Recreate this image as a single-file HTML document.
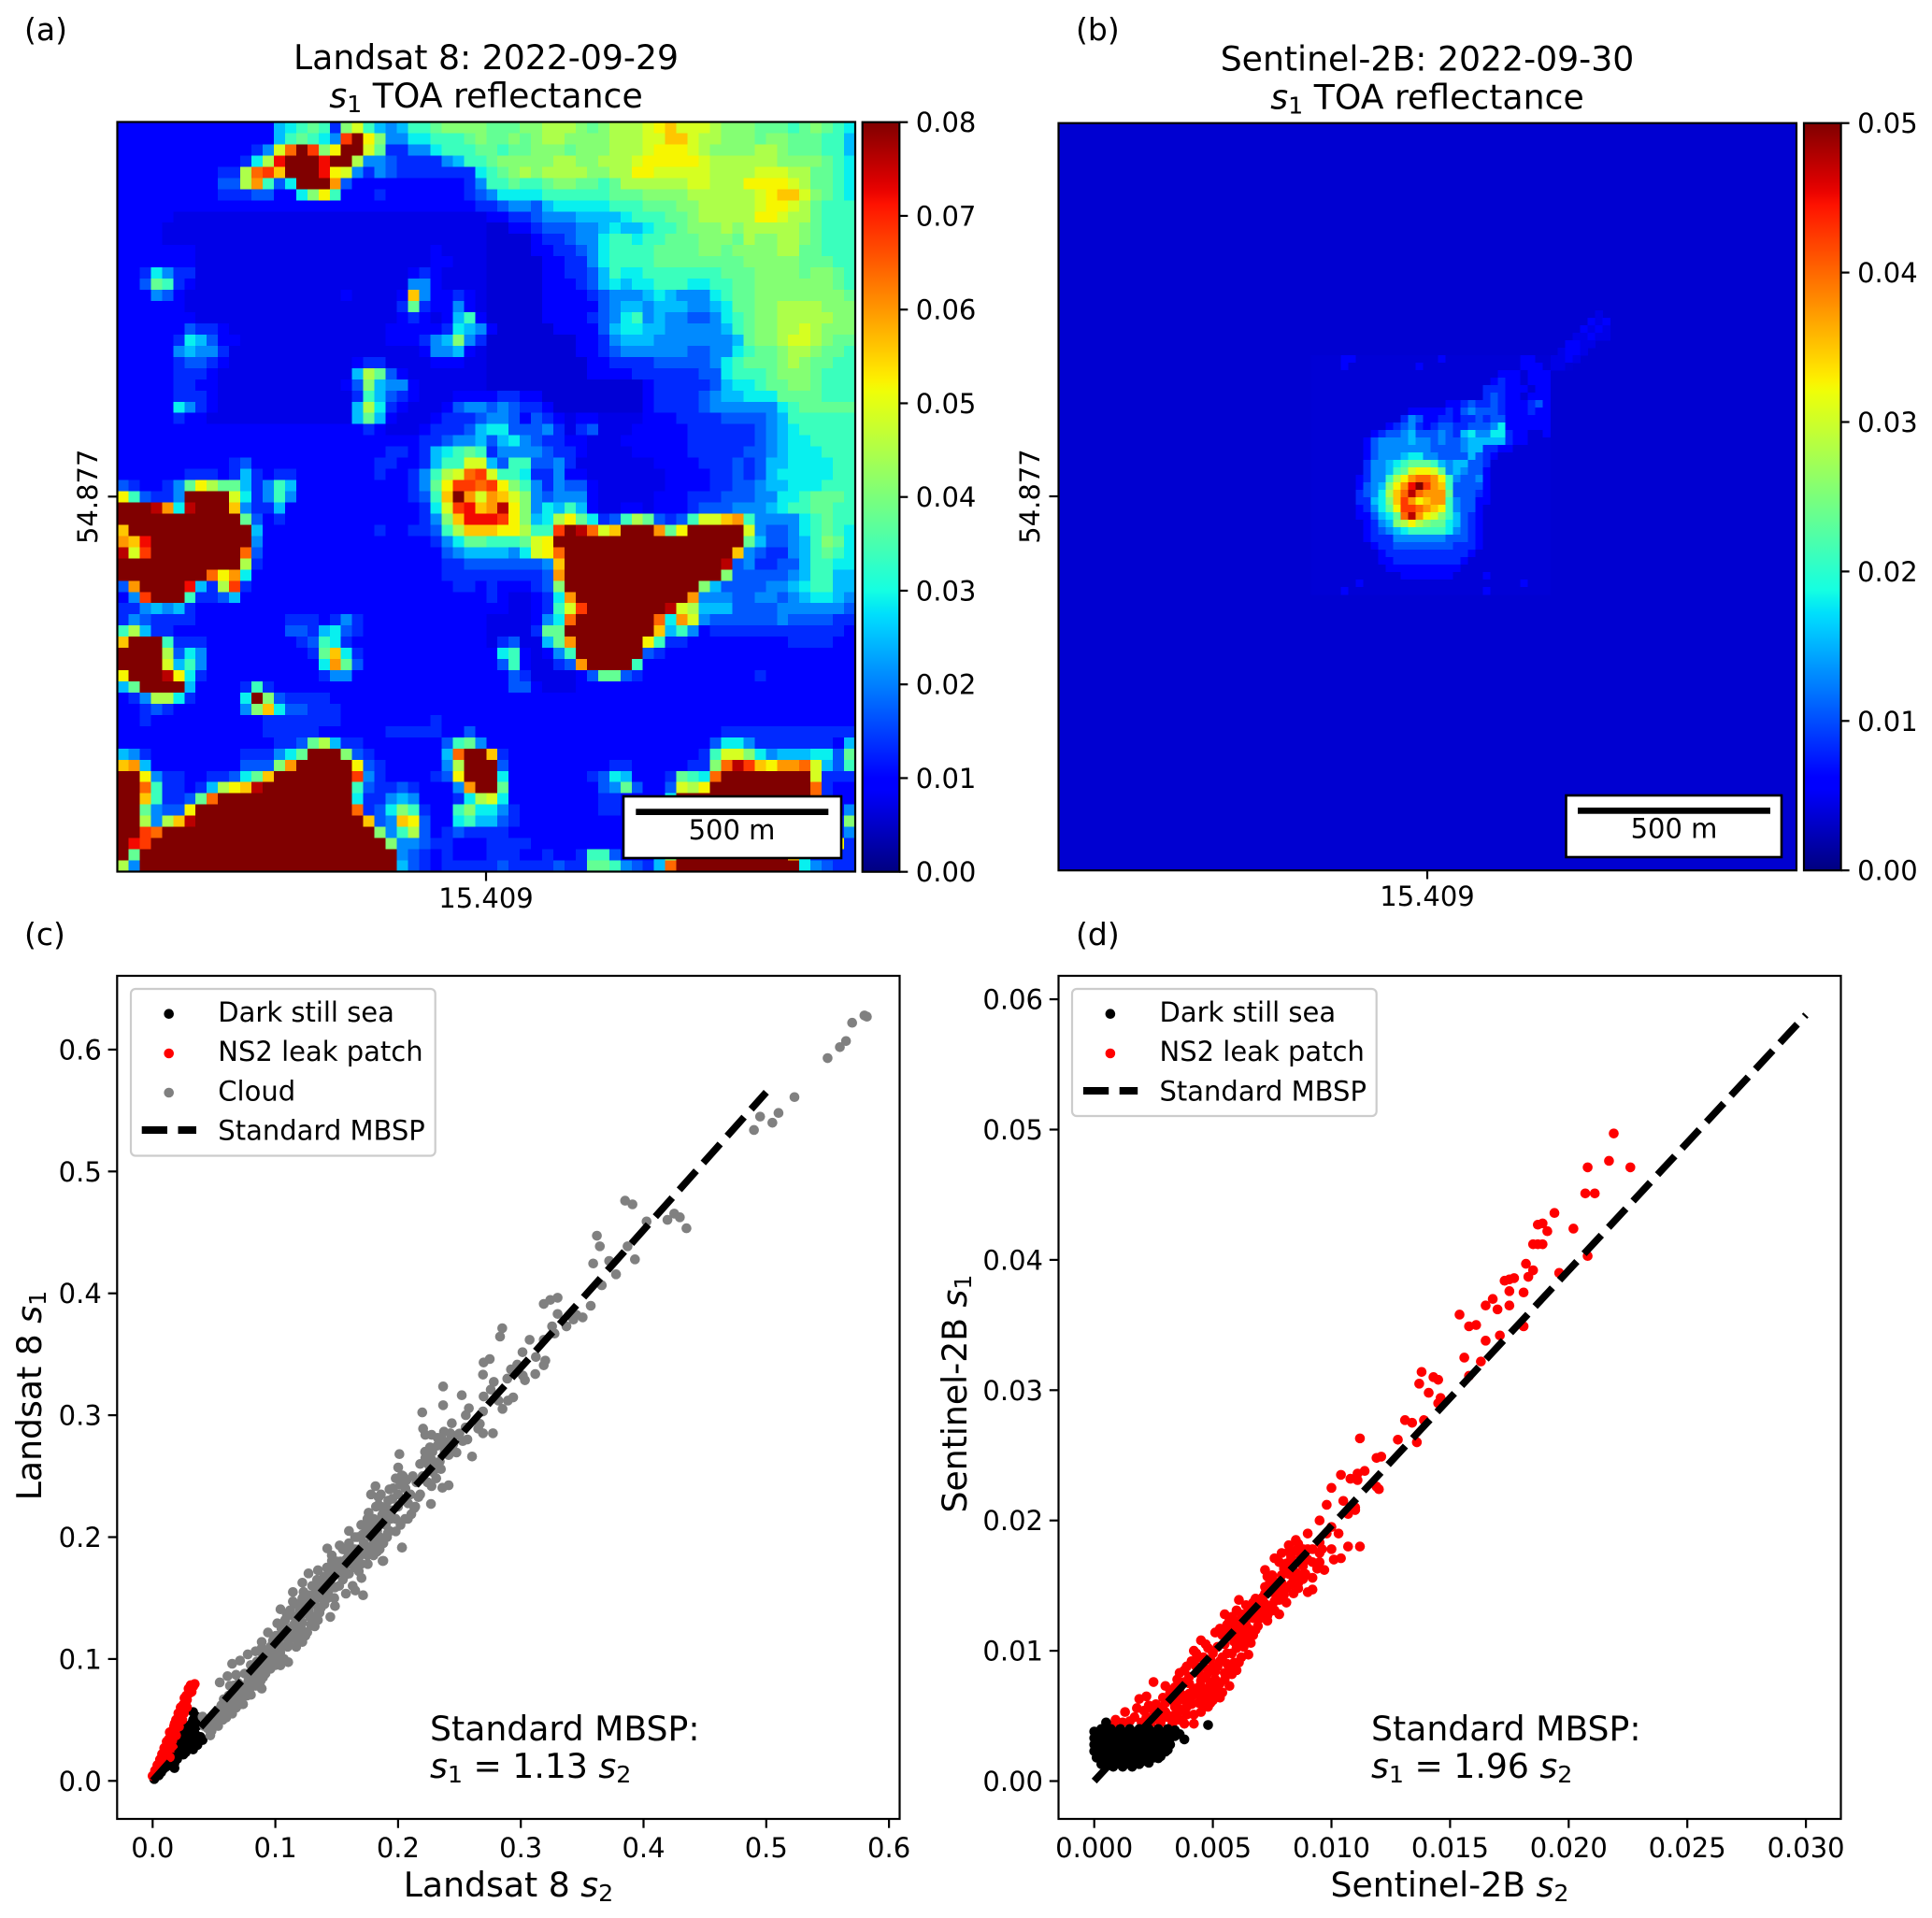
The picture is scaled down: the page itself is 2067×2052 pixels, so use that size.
<!DOCTYPE html>
<html>
<head>
<meta charset="utf-8">
<title>NS2 leak patch reflectance</title>
<style>
html,body{margin:0;padding:0;background:#fff}
svg{display:block}
text{font-family:"DejaVu Sans","Liberation Sans",sans-serif;fill:#000}
</style>
</head>
<body>
<svg id="fig" xmlns="http://www.w3.org/2000/svg" width="2067" height="2052" viewBox="0 0 2067 2052">
<rect width="2067" height="2052" fill="#fff"/>
<defs id="defs"></defs>

<g>
<text x="26" y="43" font-size="33">(a)</text>
<text x="520" y="74" text-anchor="middle" font-size="36.2">Landsat 8: 2022-09-29</text>
<text x="520" y="115" text-anchor="middle" font-size="36.2"><tspan font-style="italic">s</tspan><tspan font-size="25.3" dy="5">1</tspan><tspan dy="-5"> TOA reflectance</tspan></text>
<g id="cellsA" shape-rendering="crispEdges"></g>
<rect x="125.5" y="130.5" width="789.5" height="802" fill="none" stroke="#000" stroke-width="2.2"/>
<rect x="667" y="852" width="233" height="66" fill="#fff" stroke="#000" stroke-width="2.6"/>
<rect x="680.3" y="865.3" width="206" height="6.7" fill="#000"/>
<text x="783" y="898" text-anchor="middle" font-size="29">500 m</text>
<line x1="520" x2="520" y1="933" y2="942.5" stroke="#000" stroke-width="2.2"/>
<line x1="125" x2="115.5" y1="531.3" y2="531.3" stroke="#000" stroke-width="2.2"/>
<text x="520" y="971" text-anchor="middle" font-size="29">15.409</text>
<text transform="translate(104 531.3) rotate(-90)" text-anchor="middle" font-size="29">54.877</text>
<g id="cbarA"></g>
</g>

<g>
<text x="1151" y="43" font-size="33">(b)</text>
<text x="1527" y="75.5" text-anchor="middle" font-size="36.2">Sentinel-2B: 2022-09-30</text>
<text x="1527" y="116.5" text-anchor="middle" font-size="36.2"><tspan font-style="italic">s</tspan><tspan font-size="25.3" dy="5">1</tspan><tspan dy="-5"> TOA reflectance</tspan></text>
<g id="cellsB" shape-rendering="crispEdges"></g>
<rect x="1132.5" y="131.7" width="789.5" height="799.5" fill="none" stroke="#000" stroke-width="2.2"/>
<rect x="1675.5" y="851" width="230.5" height="66" fill="#fff" stroke="#000" stroke-width="2.6"/>
<rect x="1688" y="864" width="206" height="6.7" fill="#000"/>
<text x="1791" y="896.5" text-anchor="middle" font-size="29">500 m</text>
<line x1="1527" x2="1527" y1="931" y2="940.5" stroke="#000" stroke-width="2.2"/>
<line x1="1132" x2="1122.5" y1="531" y2="531" stroke="#000" stroke-width="2.2"/>
<text x="1527" y="969" text-anchor="middle" font-size="29">15.409</text>
<text transform="translate(1112 531) rotate(-90)" text-anchor="middle" font-size="29">54.877</text>
<g id="cbarB"></g>
</g>

<g>
<text x="26" y="1011" font-size="33">(c)</text>
<g id="marksC"></g>
<rect x="125.3" y="1044" width="837.2" height="902" fill="none" stroke="#000" stroke-width="2.2"/>
<g id="ticksC"></g>
<rect x="140" y="1058" width="325.7" height="178.5" rx="5" fill="#fff" fill-opacity="0.8" stroke="#ccc" stroke-width="2.2"/>
<circle cx="180.7" cy="1084.7" r="5.3" fill="#000"/>
<text x="233.3" y="1093" font-size="29">Dark still sea</text>
<circle cx="180.7" cy="1127" r="5.3" fill="#f00"/>
<text x="233.3" y="1135" font-size="29">NS2 leak patch</text>
<circle cx="180.7" cy="1169" r="5.3" fill="#808080"/>
<text x="233.3" y="1177.5" font-size="29">Cloud</text>
<line x1="151.7" x2="210" y1="1209" y2="1209" stroke="#000" stroke-width="8" stroke-dasharray="27.3 11.5"/>
<text x="233.3" y="1219.5" font-size="29">Standard MBSP</text>
<text x="460" y="1862" font-size="36.2">Standard MBSP:</text>
<text x="460" y="1902" font-size="36.2"><tspan font-style="italic">s</tspan><tspan font-size="25.3" dy="5">1</tspan><tspan dy="-5"> = 1.13 </tspan><tspan font-style="italic">s</tspan><tspan font-size="25.3" dy="5">2</tspan></text>
<text x="544" y="2029" text-anchor="middle" font-size="36.2">Landsat 8 <tspan font-style="italic">s</tspan><tspan font-size="25.3" dy="5">2</tspan></text>
<text transform="translate(44 1493) rotate(-90)" text-anchor="middle" font-size="36.2">Landsat 8 <tspan font-style="italic">s</tspan><tspan font-size="25.3" dy="5">1</tspan></text>
</g>

<g>
<text x="1151" y="1011" font-size="33">(d)</text>
<g id="marksD"></g>
<rect x="1132.5" y="1044" width="837" height="902" fill="none" stroke="#000" stroke-width="2.2"/>
<g id="ticksD"></g>
<rect x="1147" y="1058" width="325.7" height="136" rx="5" fill="#fff" fill-opacity="0.8" stroke="#ccc" stroke-width="2.2"/>
<circle cx="1187.9" cy="1084.7" r="5.3" fill="#000"/>
<text x="1240.5" y="1093" font-size="29">Dark still sea</text>
<circle cx="1187.9" cy="1127" r="5.3" fill="#f00"/>
<text x="1240.5" y="1135" font-size="29">NS2 leak patch</text>
<line x1="1158.9" x2="1217.2" y1="1167" y2="1167" stroke="#000" stroke-width="8" stroke-dasharray="27.3 11.5"/>
<text x="1240.5" y="1177.5" font-size="29">Standard MBSP</text>
<text x="1467" y="1862" font-size="36.2">Standard MBSP:</text>
<text x="1467" y="1902" font-size="36.2"><tspan font-style="italic">s</tspan><tspan font-size="25.3" dy="5">1</tspan><tspan dy="-5"> = 1.96 </tspan><tspan font-style="italic">s</tspan><tspan font-size="25.3" dy="5">2</tspan></text>
<text x="1551" y="2029" text-anchor="middle" font-size="36.2">Sentinel-2B <tspan font-style="italic">s</tspan><tspan font-size="25.3" dy="5">2</tspan></text>
<text transform="translate(1034 1491) rotate(-90)" text-anchor="middle" font-size="36.2">Sentinel-2B <tspan font-style="italic">s</tspan><tspan font-size="25.3" dy="5">1</tspan></text>
</g>
</svg>

<script>
/* ---------- heatmap data: each character indexes cellLevels (fraction of the colour range);
   "x*n" repeats x n times; "|" separates the left and right halves of a row ---------- */
const levelChars = "0123456789abcdefghijk";
const cellLevels = [0.075,0.09,0.11,0.165,0.21,0.26,0.31,0.36,0.42,0.47,0.51,0.56,0.61,0.65,0.70,0.75,0.80,0.85,0.90,0.95,1.0];
const landsatMax = 0.08;
const sentinelMax = 0.05;
const sentinelBackground = 0.0035;

const landsatRows = [
"2*14 678983ac8656889aaaa | 999aabbba9abbbcdecccbaaa99989a987",
"2*14 689875hkda55778889a | 99a9abbaaaabbbcceecbbaaa9aa999886",
"2*12 35cgkhadkkc9335578889 | 9899aaa9aaabbbcdddcbaaaabba999886",
"2*11 37bikkkikkb55433335688 | 9aaaaabbaabbbcdddddcbbbbbbaaaa987",
"2*9 33bghekkkidc535433333337 | 89ababbbbaabbddcccccbbbbcccbb9987",
"2*9 44bf847kkkf4 2*10 35 | 889889aa9989bbbbbbccbbbddddcb9987",
"2*9 33344227ad8 222 3 2*7 34 | 57777888888999aaaabbbbbb cdeeca987",
"2*32 3 | 34554677777888999aabbbbbcddcb9888",
"2*5 1*28 | 223345556666788899abbbbbddcbb9888",
"2*4 1*29 | 002234445567667889aaababbbbba9888",
"2*4 1*29 | 0000233455788788999aaa9baabba9888",
"2*7 1*21 2 1*4 | 0000223345788889999aa9aaaabb99888",
"2*7 1*21 22 111 | 0*5 2233 5 7 8888 9*8 a*5 999 88",
"22 37533 1*19 2 3 2 1111 | 000002233468778888888999aaaa9aa98",
"22 49832 1*19 55 2 1111 | 000002223467677888778899aaaaaaa98",
"22 25421 1*13 2 1111 2e522321 | 000002222345556765557899aaaaaaaa9",
"2*6 1*19 39322521 | 0*5 2*5 45 66 5 666 55 67 99 aa bbbb aaa",
"2*7 1*18 23212682 | 0*5 2222 3 4 5 7 8 5 6 55 44 5 7 8 9 aa b*5 aa",
"2*6 4332 1*14 2*5 3765 | 2 0*5 2222 4 6 77 66 5*5 6 8 9 aa bb c b aaa",
"2*5 376422 1*13 2223 56a53 | 0*8 22 3 5 666 5*7 6 9 aa b cc b a 99",
"2*5 56553 1*17 255621 | 0*8 22 3 4 5*6 44 55 7 8 99 a bb a 99 8",
"2*5 34432 1*11 233 1111 222 11 | 0*9 22 3333 4*5 5 7 8 999 a b a 99 88",
"2*5 3332 1*12 6b942 1*7 | 0*9 2222 33 33 33 44 7 8 8 8 9 a a a 9 8 8 8",
"2*5 3322 1*11 24a6552 1*6 | 0*14 2 3*5 4 6 77 8 99 aa 9 888",
"2*5 3332 1*12 386432 111 222 | 23322 0*9 2 3333 4 5 66 777 9999 888",
"2*5 7532 1*12 6b732 111 2455 | 454332 0*8 2 3333 4 5*6 7 8 9*5",
"2*5 322 1*13 6962 111 23334 | 554243 2 1 2 2 1111 2 22333 344445 6888888",
"2*21 2 32 111 2 33346 | 774445 3 1 3 4 111 22 22233 333345 6788888",
"2*27 334556 | 467543 3 22 111 222 22233 333345 6778888",
"2*24 332367898 | 355554 33 2 1111 22 22233 333445 6777888",
"2*10 34 2*11 3322 3688cc | 648844 5 3 1*7 22223 334346 6777788",
"2*6 3332 3632 33 2*7 3223 58bcgh | c88733 5 22 1*6 12222 334346 7777788",
"4322359db99 6358 6 2*10 359dhhg | hda853 5 44 2 1*5 12222 334456 6777888",
"d84335 kkkk c73585 2*10 348ekfc | feca54 555 2 1*5 22233 344455 7789998",
"kkkjf7jkkk e53362 2*10 237chie | fjda57 686 2 11 22 1 22234 445556 7889988",
"k*11 9423 2*12 35aeii | ihda67 bd97 3 4 8 b 9 4348c cef855 5578988",
"e k*11 6 2*10 3 2233 48bee | eddb88 hkjgce kkk f9dkk kkkc54 4578987",
"fei k*9 5 2*15 35799 | 8889cd k*17 9644568a97",
"jch k*8 g4 2*15 24566 | 665 7cdg k*15 e 5 4 3 3 5 6 8 9 8 7",
"k*11 b3 2*16 3344 | 44444 5 e k*14 j 4 5 3 3 4 4 6 8 8 7 7",
"k*8 gdf72 2*16 3333 | 33333 4 f k*14 a 4 4 4 4 4 5 6 8 8 6 6",
"4fkkkki63bh3 2*18 332 | 3222 34a k*12 a 6 4 4 4 4 5 5 6 7 8 8 6 6",
"25hkkk83346 2*22 | 32112 3 7 f k*10 f 5 5 5 4 4 5 5 4 5 6 7 7 6 5",
"3356563 2*26 | 221123 8 c h k*7 j c b 6 6 6 4 4 4 4 5 5 5 5 5 5 4",
"3543333 2*8 3332353 2*11 | 1111 2 5 7 g k*7 g 7 f c 5 4 4 4 4 4 4 5 4 4 4 4 3 3",
"8b633 2*10 4436743 2*11 | 1111 3 9 9 k k*7 e 6 8 5 2 3*12 2",
"ekkk8333 2*8 34873 2*12 | 1 3 4 1 1 6 9 f k*6 d 8 3 3 2 2*8 3333 22",
"kkkkb475 2*9 39e73 2*11 | 2 7 8 2 1 2 5 8 k*6 4 3 2 2 2 2*14",
"kkkkc685 2*10 7f94 2*11 | 2 4 8 2 1 1 3 4 f kkkk 8 2*19",
"dkkkjd73 2*10 3552 2*11 | 2 2 4 3 1 1 1 1 249943 2*10 3 2*8",
"69kkkk6 2222 383 2*19 | 2 2 4 4 2 1 1 1 2*25",
"235bb73 2222 7ka43333 2*14 | 2*33",
"22343 2*6 5ae744333 2*13 | 2*33",
"223 2*10 3*7 2*8 3 2222 | 2*33",
"2*13 33333 2*6 33333 2242 | 2*21 3*12",
"2*14 33 4 9 b 6 33 2*7 4895 | 2*20 4 7 7 5 3*7 2 6",
"653 2*8 333 579kkka43 2*6 6gkk | e3 2*17 3 8 c c a 7 5 6 6 6 7 7 4 9",
"ef6 2*8 444af kkkkk d43 2*5 5bkk | k4 2*9 33 2*5 33 a g j h e d f f g c 6 4 8",
"kkd5 33223 3479e k*7 h53 2222 34dkk | k7 2*7 34762223 987 g k*8 c 333",
"kkg8 332 36bdej k*8 843343 2225fk | k9 2*7 24594224 cbd k*9 g 322",
"kke8 33 49g k*12 733565 22237b | c7 2*8 33 2222 7 k*12 g 322",
"kk95 44d k*14 g347a83 228a7 | 753 2*7 33 2222 8 k*12 c 3 2 5",
"kkb5bej k*15 e45ed4 22786 | 643 2*9 2222 8 k*12 3 3 3 a",
"kkhg k*19 a58b4 23433 | 33 2*10 2222 8 k*12 g 3 3 5",
"kih k*21 a5543 3222 | 3333 2*8 2222 8 k*12 c d d 3",
"k9 k*23 54323222 | 333 22 3 22 3 88 4 2226 a k*10 e 7 3 3 3 3",
"b5 k*23 64323333 | 343333 433 998 5436 g k*11 7 5 4 3 3"
];

const sentinelPlumeRows = [
"0000220000000000020000000000220 0",
"0000200000000020000000000000222 0",
"00000000000000000000000002220222",
"00000000000000000000000023220222",
"00000000000000000000000333222022",
"00000000000000000000000343220222",
"0*18 22 343343 222 342",
"0*13 22222 3 2 454443 222 322",
"0*12 3542233 2 334344 222222",
"0*10 2345323 44 3 3 444 5 7 222222",
"0*8 23445644454367557732 2002",
"0*7 245555655454456666632 2000",
"0*7 2455555554444566332 200000",
"0*7 245556775544446432 0*7",
"0*7 35567899986566443 0*8",
"0*7 35568 9cddc9 5654 42 0*8",
"0*6 23558bdfggfd854452 0*8",
"0*6 2456adfikhfe844442 0*8",
"0*6 3457begjgfff944432 0*8",
"0*6 3367aehfdeff854422 0*8",
"0*6 23579dhhgfed854420 0*8",
"0*6 224679gjfdca864320 0*8",
"0*6 02356abdba99764320 0*8",
"0*7 2345678888875432 0*9",
"0*7 2333555555544432 0*9",
"0*8 233444444443332 0*9",
"0*9 2333333333332 0*10",
"0*9 223333333332 0*11",
"0*10 2222222222 0*12",
"00000000000022222220000200000000",
"00000020000000000000000000002000",
"00002000000000000000000200000000"
];

const sentinelTailRows = [
"........1.",
".......212",
"......2121",
".....11211",
"....2211..",
"...1221...",
"..1121....",
".1110....."
];

/* ---------- colourbar ticks ---------- */
const landsatBarTicks = [0,0.01,0.02,0.03,0.04,0.05,0.06,0.07,0.08];
const sentinelBarTicks = [0,0.01,0.02,0.03,0.04,0.05];

/* ---------- scatter (c): [s2, s1] ---------- */
const cDarkPoints = [[0.0013,0.0015],[0.003,0.004],[0.0045,0.006],[0.006,0.008],[0.0077,0.0105],[0.0095,0.012],[0.0115,0.013],[0.0135,0.0155],[0.0153,0.0194],[0.0178,0.0145],[0.0178,0.0105],[0.02,0.018],[0.0195,0.0235],[0.0229,0.0322],[0.0235,0.024],[0.025,0.0215],[0.0265,0.033],[0.0275,0.0265],[0.033,0.0258],[0.03,0.0305],[0.0335,0.031],[0.0365,0.0295],[0.0407,0.0335],[0.036,0.037],[0.028,0.045],[0.031,0.04],[0.034,0.0435],[0.0356,0.0527],[0.033,0.0565],[0.0325,0.048],[0.036,0.045],
[0.005,0.0045],[0.007,0.007],[0.009,0.01],[0.011,0.0115],[0.013,0.0135],[0.015,0.016],[0.017,0.018],[0.019,0.021],[0.021,0.023],[0.023,0.0275],[0.025,0.03],[0.027,0.0235],[0.029,0.028],[0.031,0.0285],[0.033,0.034],[0.035,0.034],[0.037,0.0345],[0.039,0.036],[0.024,0.036],[0.026,0.04],[0.028,0.038],[0.03,0.036],[0.032,0.038],[0.034,0.04],[0.029,0.042],[0.031,0.046],[0.033,0.05],[0.035,0.048],[0.027,0.035],[0.021,0.028],[0.018,0.025],[0.016,0.022]];
const cLeakPoints = [[0.0,0.0041],[0.002,0.0085],[0.0039,0.013],[0.006,0.0175],[0.0077,0.022],[0.0095,0.027],[0.0115,0.0322],[0.014,0.0399],[0.014,0.0194],[0.0125,0.0255],[0.0166,0.0271],[0.016,0.033],[0.0191,0.0373],[0.0175,0.045],[0.0191,0.0501],[0.0215,0.0445],[0.0242,0.0501],[0.021,0.0555],[0.0229,0.0603],[0.028,0.0603],[0.026,0.068],[0.0255,0.0555],[0.0293,0.0757],[0.0318,0.0731],[0.0343,0.0795],[0.028,0.0665],[0.0315,0.0775],
[0.002,0.006],[0.004,0.01],[0.005,0.0125],[0.007,0.017],[0.009,0.022],[0.0105,0.0265],[0.012,0.03],[0.013,0.034],[0.0145,0.036],[0.016,0.04],[0.017,0.0425],[0.018,0.047],[0.02,0.047],[0.021,0.05],[0.022,0.053],[0.023,0.056],[0.024,0.058],[0.025,0.0625],[0.027,0.064],[0.0275,0.07],[0.03,0.072],[0.031,0.0785],[0.033,0.0775]];
const cCloudPoints = [
[0.042,0.045],[0.0407,0.0527],[0.047,0.0373],[0.0508,0.0552],[0.0483,0.0463],[0.0572,0.0501],[0.0534,0.045],[0.0648,0.0552],[0.0559,0.0603],[0.0547,0.0808],[0.061,0.0859],[0.0648,0.0961],[0.0712,0.0987],[0.0661,0.0782],[0.0737,0.0629],[0.0801,0.0706],[0.0712,0.068],[0.0762,0.0782],[0.0889,0.0757],[0.0775,0.1038],[0.0839,0.1063],[0.0889,0.1089],[0.0915,0.0936],[0.0864,0.0885],[0.094,0.0998],[0.1105,0.0974],[0.1042,0.0948],[0.1016,0.1012],[0.0889,0.114],[0.094,0.1217],[0.1016,0.1293],[0.1042,0.1408],[0.1093,0.137],[0.1004,0.1191],[0.1118,0.1242],[0.122,0.114],[0.1245,0.1191],[0.1169,0.1166],[0.1321,0.1268],[0.1283,0.1345],[0.1347,0.1319],[0.122,0.137],[0.1143,0.1472],[0.1143,0.1549],[0.122,0.1498],[0.127,0.1523],[0.1448,0.1345],[0.1486,0.1434],[0.1372,0.1421],[0.1423,0.1498],[0.1347,0.1575],[0.122,0.1626],[0.127,0.1702],[0.1347,0.1728],[0.1397,0.1677],[0.1486,0.1587],[0.155,0.1651],[0.1575,0.1536],[0.1651,0.1562],[0.1715,0.1523],[0.1702,0.1664],[0.1626,0.1779],[0.1753,0.1779],[0.1423,0.1907],[0.1461,0.1805],[0.1524,0.1932],[0.1601,0.1881],[0.1728,0.1932],[0.1829,0.1881],[0.188,0.1805],[0.2032,0.1915],
[0.16,0.205],[0.165,0.19],[0.17,0.2],[0.175,0.215],[0.18,0.205],[0.175,0.185],[0.168,0.172],[0.186,0.215],[0.19,0.225],[0.178,0.235],[0.185,0.19],[0.058,0.067],[0.068,0.087],[0.082,0.093],[0.096,0.11],[0.108,0.125],[0.115,0.135],[0.13,0.145],[0.155,0.18],[0.165,0.175],[0.18,0.195],
[0.045,0.043],[0.047,0.05],[0.05,0.046],[0.053,0.058],[0.055,0.05],[0.058,0.055],[0.06,0.064],[0.06,0.058],[0.062,0.07],[0.063,0.078],[0.065,0.06],[0.067,0.067],[0.07,0.072],[0.07,0.08],[0.072,0.063],[0.074,0.075],[0.075,0.088],[0.077,0.07],[0.078,0.082],[0.08,0.095],[0.08,0.077],[0.082,0.085],[0.084,0.078],[0.085,0.098],[0.086,0.09],[0.088,0.082],[0.09,0.103],[0.09,0.095],[0.092,0.088],[0.094,0.105],[0.095,0.1],[0.096,0.092],[0.098,0.115],[0.098,0.108],[0.1,0.1],[0.1,0.095],[0.102,0.112],[0.104,0.105],[0.105,0.125],[0.106,0.118],[0.107,0.1],[0.108,0.132],[0.11,0.11],[0.11,0.125],[0.112,0.14],[0.113,0.118],[0.115,0.128],[0.116,0.145],[0.117,0.11],[0.118,0.135],[0.12,0.12],[0.12,0.14],[0.122,0.13],[0.123,0.155],[0.125,0.145],[0.126,0.122],[0.128,0.15],[0.13,0.135],[0.13,0.16],[0.132,0.145],[0.134,0.165],[0.135,0.15],[0.136,0.138],[0.138,0.155],[0.14,0.145],[0.14,0.165],[0.142,0.175],[0.143,0.155],[0.145,0.165],[0.146,0.185],[0.148,0.15],[0.15,0.17],[0.15,0.18],[0.152,0.16],[0.154,0.175],[0.155,0.19],[0.156,0.168],[0.158,0.182],[0.16,0.17],[0.16,0.195],[0.162,0.185],[0.163,0.16],[0.165,0.2],[0.166,0.182],[0.168,0.19],[0.17,0.21],[0.17,0.178],[0.172,0.195],[0.174,0.205],[0.175,0.19],[0.176,0.22],[0.178,0.2],[0.18,0.185],[0.18,0.215],[0.182,0.225],[0.183,0.205],[0.185,0.2],[0.186,0.235],[0.187,0.218],[0.188,0.195],[0.19,0.21],[0.192,0.23],[0.193,0.205],[0.195,0.222],[0.196,0.24],[0.198,0.215],[0.2,0.235],[0.2,0.225],[0.202,0.21],[0.204,0.25],[0.205,0.23],[0.206,0.24],[0.208,0.215],[0.21,0.235],[0.212,0.25],[0.214,0.225],[0.215,0.245],[0.218,0.26],[0.218,0.235],[0.22,0.25],[0.222,0.27],[0.224,0.245],[0.226,0.255],[0.228,0.27],[0.23,0.26],[0.232,0.275],[0.234,0.262],[0.236,0.28],[0.238,0.27],[0.24,0.278],[0.243,0.28],[0.246,0.27],[0.25,0.285],[0.255,0.29],
[0.043,0.049],[0.048,0.041],[0.052,0.052],[0.056,0.062],[0.06,0.052],[0.064,0.066],[0.066,0.073],[0.068,0.06],[0.073,0.07],[0.076,0.075],[0.079,0.088],[0.083,0.09],[0.083,0.08],[0.087,0.097],[0.09,0.085],[0.093,0.1],[0.097,0.097],[0.099,0.105],[0.101,0.118],[0.103,0.1],[0.106,0.11],[0.109,0.118],[0.111,0.115],[0.114,0.122],[0.117,0.13],[0.119,0.145],[0.121,0.125],[0.124,0.138],[0.127,0.14],[0.129,0.128],[0.131,0.15],[0.133,0.155],[0.135,0.14],[0.137,0.16],[0.139,0.15],[0.141,0.158],[0.144,0.172],[0.146,0.16],[0.149,0.175],[0.153,0.18],[0.156,0.175],[0.159,0.188],[0.161,0.178],[0.164,0.19],[0.167,0.2],[0.169,0.185],[0.171,0.202],[0.173,0.188],[0.177,0.21],[0.179,0.192],[0.181,0.208],[0.184,0.212],[0.186,0.225],[0.189,0.218],[0.191,0.2],[0.194,0.215],
[0.1841,0.197],[0.1816,0.1919],[0.1874,0.1804],[0.1917,0.2034],[0.1981,0.2047],[0.1816,0.2418],[0.1841,0.2264],[0.1841,0.2328],[0.1917,0.2175],[0.2032,0.1914],[0.2057,0.2149],[0.2108,0.2188],[0.2082,0.2277],[0.2133,0.2239],[0.2268,0.2272],[0.2166,0.2328],[0.1955,0.2315],[0.193,0.2392],[0.2019,0.243],[0.207,0.2469],[0.1981,0.2482],[0.2031,0.2507],[0.2001,0.2571],[0.2273,0.2418],[0.2361,0.2405],[0.2412,0.2425],[0.2311,0.2482],[0.2285,0.2533],[0.2349,0.2558],[0.2247,0.2597],[0.2273,0.2635],[0.2222,0.2648],[0.2011,0.2681],[0.2603,0.2661],[0.2412,0.2673],[0.2476,0.2694],[0.226,0.2737],[0.2374,0.275],[0.245,0.2763],[0.2527,0.2788],[0.2565,0.2801],[0.2488,0.2839],[0.2425,0.2852],[0.2374,0.2865],[0.2323,0.2814],[0.2273,0.2839],[0.2222,0.2839],
[0.2204,0.289],[0.2438,0.2934],[0.2653,0.289],[0.2773,0.2852],[0.2692,0.2852],[0.2666,0.2929],[0.2197,0.3023],[0.2552,0.3],[0.2577,0.3057],[0.2367,0.3082],[0.2519,0.3164],[0.2367,0.3236],[0.2692,0.3031],[0.2818,0.312],[0.2851,0.3052],[0.2895,0.312],[0.2938,0.3146],[0.2697,0.3154],[0.2755,0.321],[0.278,0.3274],[0.289,0.33],[0.2692,0.3333],[0.2697,0.3433],[0.2747,0.3461],[0.292,0.3376],[0.2971,0.3415],[0.3017,0.3325],[0.3034,0.3287],[0.3118,0.3338],[0.3187,0.341],[0.32,0.3448],[0.3123,0.3478],[0.3014,0.3517],[0.2831,0.3645],[0.2849,0.3714],[0.3072,0.3619],[0.3187,0.3619],[0.3275,0.367],[0.3255,0.3729],[0.3372,0.3729],[0.3428,0.3785],[0.3453,0.3823],[0.3504,0.3803],[0.33,0.3831],[0.3187,0.3913],[0.324,0.3946],[0.33,0.3964],[0.357,0.3898],[0.366,0.4066],[0.3776,0.4156],[0.393,0.4279],[0.372,0.4266],[0.359,0.4245],[0.387,0.4386],[0.3644,0.4386],[0.362,0.4473],[0.435,0.4534],[0.4195,0.4603],[0.4296,0.4624],[0.425,0.4654],[0.4025,0.459],[0.391,0.473],[0.385,0.476],
[0.49,0.534],[0.495,0.545],[0.505,0.54],[0.51,0.548],[0.523,0.561],[0.55,0.593],[0.56,0.602],[0.565,0.607],[0.57,0.622],[0.58,0.628],[0.582,0.627]
];

/* ---------- scatter (d): [s2, s1] ---------- */
const dLeakPoints = [
[0.0219,0.0497],[0.0217,0.0476],[0.0208,0.0471],[0.0226,0.0471],[0.0207,0.0451],[0.0211,0.0451],[0.0194,0.0436],[0.0187,0.0427],[0.0189,0.0428],[0.0191,0.0422],[0.0202,0.0424],[0.0185,0.0412],[0.0187,0.0412],[0.0189,0.0412],[0.0208,0.0403],[0.0182,0.0397],[0.0185,0.0392],[0.0183,0.0387],[0.0196,0.039],[0.0173,0.0384],[0.0175,0.0385],[0.0177,0.0386],[0.0175,0.0376],[0.0181,0.0375],[0.0165,0.0365],[0.0168,0.037],[0.017,0.0362],[0.0175,0.0365],[0.0154,0.0358],[0.0158,0.0349],[0.0161,0.035],[0.0181,0.0349],[0.0165,0.0338],[0.0171,0.0342],[0.0156,0.0325],[0.0163,0.0322],[0.0158,0.0311],[0.0138,0.0314],[0.0143,0.031],[0.0145,0.0308],[0.0137,0.0305],[0.0141,0.0298],[0.0146,0.0294],[0.0145,0.029],[0.0131,0.0277],[0.0134,0.0275],[0.0139,0.0277],[0.0128,0.0262],[0.0136,0.026],[0.0112,0.0263],[0.0119,0.0248],[0.0121,0.0249],[0.0114,0.0238],[0.0111,0.0236],[0.0111,0.0231],[0.0119,0.0226],[0.012,0.0224],[0.011,0.0208],[0.0112,0.018],
[0.0095,0.02],[0.0098,0.0212],[0.01,0.0225],[0.0105,0.0215],[0.01,0.0195],[0.0103,0.019],[0.0107,0.0205],[0.011,0.021],[0.0108,0.0232],[0.0104,0.0235],[0.009,0.019],[0.0085,0.0185],
[0.0009,0.0047],[0.0013,0.0053],[0.0017,0.0049],[0.0019,0.0063],[0.0022,0.0065],[0.0025,0.0076],[0.0021,0.0054],[0.0026,0.0059],[0.003,0.0073],[0.0029,0.0064],[0.0031,0.0049],[0.0026,0.0048],[0.0036,0.0047],[0.0034,0.0057],[0.0042,0.0051],[0.0039,0.0057],[0.0048,0.0057],[0.0044,0.006],[0.0036,0.0066],[0.0032,0.0068],[0.0036,0.0083],[0.0039,0.0088],[0.0038,0.0076],[0.0042,0.0071],[0.0047,0.0071],[0.005,0.0066],[0.0057,0.0073],[0.0051,0.0078],[0.0055,0.0083],[0.005,0.0088],[0.0044,0.0083],[0.0044,0.0095],[0.0042,0.01],[0.0045,0.0108],[0.0048,0.0102],[0.0054,0.0095],[0.0059,0.0091],[0.0065,0.0097],[0.006,0.0102],[0.0066,0.0106],[0.0057,0.0112],[0.0051,0.0114],[0.0053,0.0117],[0.0062,0.0116],[0.0069,0.0119],[0.0063,0.0126],[0.0055,0.0128],[0.0058,0.0126],[0.0073,0.0123],[0.0078,0.0128],[0.0069,0.0131],[0.0061,0.0139],[0.0067,0.0137],[0.0076,0.0138],[0.0081,0.0137],[0.0072,0.0144],[0.0078,0.0147],[0.0084,0.0144],[0.009,0.0145],[0.0092,0.0147],[0.0086,0.0152],[0.0082,0.0159],[0.0089,0.0159],[0.0072,0.0162],[0.0076,0.0153],[0.0073,0.0157],[0.0097,0.0162],[0.009,0.017],[0.0076,0.0171],[0.0079,0.0175],[0.0082,0.0181],[0.0085,0.0177],[0.0095,0.0175],[0.01,0.0178],[0.0101,0.017],[0.0104,0.0171],[0.0107,0.018],
[0.0008,0.0043],[0.0012,0.0045],[0.0015,0.0046],[0.002,0.0045],[0.0024,0.0045],[0.0028,0.0045],[0.0033,0.0044],[0.0038,0.0044],[0.0042,0.0044],[0.0018,0.0056],[0.0023,0.0058],[0.0025,0.0054],[0.0028,0.0056],[0.003,0.006],[0.0033,0.0062],[0.0036,0.0055],[0.0033,0.005],[0.0038,0.0062],[0.004,0.0067],[0.0034,0.0072],[0.0036,0.0071],[0.004,0.0075],[0.0041,0.0065],[0.0044,0.0066],[0.0044,0.0072],[0.0045,0.0077],[0.0047,0.0064],[0.0049,0.006],[0.004,0.008],[0.0043,0.0088],[0.0046,0.008],[0.0048,0.0083],[0.0052,0.007],[0.0053,0.0075],[0.0054,0.0068],[0.0049,0.0093],[0.0046,0.0095],[0.005,0.0098],[0.0052,0.0088],[0.0055,0.0078],[0.0058,0.0082],[0.0057,0.0088],[0.006,0.0085],[0.0047,0.0105],[0.0052,0.0103],[0.0055,0.0105],[0.0056,0.0098],[0.0058,0.0098],[0.0062,0.0095],[0.0063,0.0103],[0.0064,0.0108],[0.0054,0.0112],[0.0058,0.0118],[0.006,0.0112],[0.0065,0.0113],[0.0067,0.0112],[0.0056,0.012],[0.0061,0.0123],[0.0064,0.012],[0.0067,0.0125],[0.007,0.0125],[0.0071,0.0131],[0.006,0.0131],[0.0064,0.0135],[0.0066,0.0128],[0.0072,0.0136],[0.0074,0.013],[0.0076,0.0131],[0.0068,0.014],[0.0072,0.0149],[0.0075,0.0145],[0.008,0.0143],[0.0079,0.0152],[0.0083,0.0151],[0.0086,0.0148],[0.0075,0.0158],[0.008,0.0163],[0.0085,0.016],[0.0088,0.0165],[0.0092,0.0156],[0.0078,0.0168],[0.0083,0.0172],[0.0087,0.0172],[0.009,0.0178],[0.0092,0.0168],[0.0095,0.0168],[0.0095,0.0183],[0.0098,0.019],
[0.0035,0.0078],[0.0038,0.0085],[0.0041,0.0092],[0.0043,0.0098],[0.0046,0.0088],[0.0049,0.0076],[0.0051,0.0084],[0.0053,0.0092],[0.0056,0.009],[0.0047,0.0068],[0.005,0.0062],[0.0053,0.0064],[0.0061,0.0091],[0.0059,0.0107],[0.0061,0.0107],[0.0056,0.0115],[0.0062,0.0111],[0.0065,0.0117],[0.0068,0.0116],[0.0057,0.0123],[0.006,0.0119],[0.0062,0.0128],[0.0065,0.0132],[0.007,0.0135],[0.0073,0.0127],[0.0075,0.0135],[0.0078,0.0139],[0.0071,0.0141],[0.0074,0.0152],[0.0077,0.0142],[0.0081,0.0148],[0.0084,0.0155],[0.0087,0.0158],[0.0081,0.0167],[0.0084,0.0166],[0.0088,0.0155],[0.0094,0.0163],[0.0079,0.0158],[0.0082,0.0176],[0.0086,0.0182],[0.0088,0.0178],[0.0092,0.0178],[0.0096,0.0178],[0.003,0.0053],[0.0035,0.0052],[0.0039,0.0051],[0.0045,0.0053],[0.0028,0.0051],[0.0022,0.0049],[0.0032,0.0065],[0.0035,0.0061],[0.0037,0.0066],[0.0041,0.0059],[0.0046,0.0059],[0.005,0.0072]
];
const dDarkPoints = [
[0.0003,0.0013],[0.0007,0.0013],[0.0011,0.0013],[0.0015,0.0013],[0.0019,0.0013],[0.0023,0.0014],
[0.0001,0.0018],[0.0005,0.0018],[0.0009,0.0018],[0.0013,0.0018],[0.0017,0.0018],[0.0021,0.0018],[0.0025,0.0018],[0.0028,0.0019],
[0,0.0023],[0.0004,0.0023],[0.0008,0.0023],[0.0012,0.0023],[0.0016,0.0023],[0.002,0.0023],[0.0024,0.0023],[0.0028,0.0023],[0.0031,0.0024],
[0,0.0028],[0.0004,0.0028],[0.0008,0.0028],[0.0012,0.0028],[0.0016,0.0028],[0.002,0.0028],[0.0024,0.0028],[0.0028,0.0028],[0.0032,0.0028],
[0,0.0033],[0.0004,0.0033],[0.0008,0.0033],[0.0012,0.0033],[0.0016,0.0033],[0.002,0.0033],[0.0024,0.0033],[0.0028,0.0033],[0.0032,0.0033],
[0,0.0038],[0.0004,0.0038],[0.0008,0.0038],[0.0012,0.0038],[0.0016,0.0038],[0.002,0.0038],[0.0024,0.0038],[0.0028,0.0038],[0.0032,0.0038],
[0.0005,0.0045],[0.0034,0.0039],[0.0036,0.0036],[0.0038,0.0032],[0.0048,0.0043],
[0.0005,0.00155],[0.0009,0.00155],[0.0013,0.00155],[0.0017,0.00155],[0.0021,0.00155],
[0.0002,0.00205],[0.0006,0.00205],[0.001,0.00205],[0.0014,0.00205],[0.0018,0.00205],[0.0022,0.00205],[0.0026,0.00205],
[0.0002,0.00255],[0.0006,0.00255],[0.001,0.00255],[0.0014,0.00255],[0.0018,0.00255],[0.0022,0.00255],[0.0026,0.00255],[0.003,0.00255],
[0.0002,0.00305],[0.0006,0.00305],[0.001,0.00305],[0.0014,0.00305],[0.0018,0.00305],[0.0022,0.00305],[0.0026,0.00305],[0.003,0.00305],
[0.0002,0.00355],[0.0006,0.00355],[0.001,0.00355],[0.0014,0.00355],[0.0018,0.00355],[0.0022,0.00355],[0.0026,0.00355],[0.003,0.00355],
[0.0003,0.00175],[0.0007,0.00175],[0.0011,0.00175],[0.0015,0.00175],[0.0019,0.00175],[0.0023,0.00175],[0.0027,0.00175],
[0.0002,0.00225],[0.0006,0.00225],[0.001,0.00225],[0.0014,0.00225],[0.0018,0.00225],[0.0022,0.00225],[0.0026,0.00225],[0.003,0.00225],
[0.0002,0.00275],[0.0006,0.00275],[0.001,0.00275],[0.0014,0.00275],[0.0018,0.00275],[0.0022,0.00275],[0.0026,0.00275],[0.003,0.00275],
[0.0002,0.00325],[0.0006,0.00325],[0.001,0.00325],[0.0014,0.00325],[0.0018,0.00325],[0.0022,0.00325],[0.0026,0.00325],[0.003,0.00325],
[0.0002,0.00375],[0.0006,0.00375],[0.001,0.00375],[0.0014,0.00375],[0.0018,0.00375],[0.0022,0.00375],[0.0026,0.00375],[0.003,0.00375],[0.0034,0.00345],
[0.0003,0.004],[0.0007,0.004],[0.0011,0.004],[0.0015,0.004],[0.0019,0.004],[0.0023,0.004],[0.0027,0.004],[0.0031,0.004],
[0.0008,0.0011],[0.0012,0.0011],[0.0016,0.0011]
];

/* ---------- axis ticks and fit lines ---------- */
const cXTicks = [0,0.1,0.2,0.3,0.4,0.5,0.6];
const cYTicks = [0,0.1,0.2,0.3,0.4,0.5,0.6];
const dXTicks = [0,0.005,0.01,0.015,0.02,0.025,0.03];
const dYTicks = [0,0.01,0.02,0.03,0.04,0.05,0.06];
const cFitSlope = 1.13;
const cFitEnd = 0.5;
const dFitSlope = 1.96;
const dFitEnd = 0.03;

/* ---------- helpers ---------- */
const NS = "http://www.w3.org/2000/svg";
function mk(tag, parent, attrs){
  const el = document.createElementNS(NS, tag);
  for (const k in attrs) el.setAttribute(k, attrs[k]);
  parent.appendChild(el);
  return el;
}
function ramp(pts, t){
  if (t <= pts[0][0]) return pts[0][1];
  for (let i = 1; i < pts.length; i++){
    if (t <= pts[i][0]){
      const a = pts[i-1], b = pts[i];
      return a[1] + (b[1]-a[1]) * (t-a[0]) / (b[0]-a[0]);
    }
  }
  return pts[pts.length-1][1];
}
const jetR = [[0,0],[0.35,0],[0.66,1],[0.89,1],[1,0.5]];
const jetG = [[0,0],[0.125,0],[0.375,1],[0.64,1],[0.91,0],[1,0]];
const jetB = [[0,0.5],[0.11,1],[0.34,1],[0.65,0],[1,0]];
function jet(t){
  t = Math.max(0, Math.min(1, t));
  const c = p => Math.round(255 * ramp(p, t));
  return "rgb(" + c(jetR) + "," + c(jetG) + "," + c(jetB) + ")";
}
function expand(text){
  return text.trim().split(/\s+/).map(tok => {
    const m = tok.match(/^(.)\*(\d+)$/);
    return m ? m[1].repeat(parseInt(m[2], 10)) : tok;
  }).join("");
}
function toLevels(chars){
  return chars.split("").map(ch => {
    const i = levelChars.indexOf(ch);
    return i < 0 ? null : cellLevels[i];
  });
}
function fitHalf(text){
  const s = expand(text);
  return s.length >= 33 ? s.slice(0, 33) : s + s.charAt(s.length - 1).repeat(33 - s.length);
}
function parseLandsatRow(row){
  const halves = row.split("|");
  return toLevels(fitHalf(halves[0]) + fitHalf(halves[1]));
}

/* axis functions */
const aCellX = c => 125.5 + c * 789.5 / 66;
const aCellY = r => 130.5 + r * 802 / 67;
const bCellX = k => 1402.67 + k * 8;
const bCellY = r => 380 + r * 8;
const barAY = v => 932.7 - v * 802 / landsatMax;
const barBY = v => 931.2 - v * 799.5 / sentinelMax;
const cX = v => 163.3 + 1313 * v;
const cY = v => 1905.3 - 1304 * v;
const dX = v => 1170.7 + 25380 * v;
const dY = v => 1905.5 - 13940 * v;

/* heatmap a */
const cellsA = document.getElementById("cellsA");
landsatRows.forEach((row, r) => {
  parseLandsatRow(row).forEach((lev, c) => {
    if (lev === null) return;
    const value = lev * landsatMax;
    const cell = mk("rect", cellsA, {x: aCellX(c).toFixed(2), y: aCellY(r).toFixed(2), width: Math.min(12.5, 915 - aCellX(c)).toFixed(2), height: Math.min(12.5, 932.5 - aCellY(r)).toFixed(2), fill: jet(value / landsatMax)});
    
    
  });
});

/* heatmap b */
const cellsB = document.getElementById("cellsB");
const bBack = mk("rect", cellsB, {x: 1132.5, y: 131.7, width: 789.5, height: 799.5, fill: jet(sentinelBackground / sentinelMax)});


function drawPlume(rows, k0, r0){
  rows.forEach((row, r) => {
    toLevels(expand(row)).forEach((lev, k) => {
      if (lev === null) return;
      const value = lev * sentinelMax;
      const cell = mk("rect", cellsB, {x: bCellX(k0 + k).toFixed(2), y: bCellY(r0 + r).toFixed(2), width: 8.4, height: 8.4, fill: jet(value / sentinelMax)});
      
      
    });
  });
}
drawPlume(sentinelTailRows, 30, -6);
drawPlume(sentinelPlumeRows, 0, 0);

/* colourbars */
const defs = document.getElementById("defs");
const grad = mk("linearGradient", defs, {id: "jetGrad", x1: 0, y1: 1, x2: 0, y2: 0});
for (let i = 0; i <= 64; i++){
  mk("stop", grad, {offset: i / 64, "stop-color": jet(i / 64)});
}
function drawBar(group, left, width, top, bottom, ticks, yFn){
  const body = mk("rect", group, {x: left, y: top, width: width, height: bottom - top, fill: "url(#jetGrad)", stroke: "#000", "stroke-width": 2.2});
  
  
  ticks.forEach(v => {
    const y = yFn(v);
    const t = mk("line", group, {x1: left + width, x2: left + width + 9, y1: y, y2: y, stroke: "#000", "stroke-width": 2.2});
    
    
    const l = mk("text", group, {x: left + width + 17.5, y: y + 10.5, "font-size": 29});
    
    
    l.textContent = v.toFixed(2);
  });
}
drawBar(document.getElementById("cbarA"), 922.7, 39.6, 130.7, 932.7, landsatBarTicks, barAY);
drawBar(document.getElementById("cbarB"), 1930, 39.6, 131.7, 931.2, sentinelBarTicks, barBY);

/* scatter helpers */
function drawPoints(group, points, fill, xFn, yFn, name){
  points.forEach(p => {
    const dot = mk("circle", group, {cx: xFn(p[0]).toFixed(2), cy: yFn(p[1]).toFixed(2), r: 5.3, fill: fill});
    
    
  });
}
function drawFit(group, slope, end, xFn, yFn, name){
  const line = mk("line", group, {x1: xFn(0), y1: yFn(0), x2: xFn(end), y2: yFn(slope * end), stroke: "#000", "stroke-width": 7.6, "stroke-dasharray": "27.2 11.3"});
  
  
}
function drawTicks(group, xTicks, yTicks, xFn, yFn, xDigits, yDigits, left, bottom, name){
  xTicks.forEach(v => {
    const x = xFn(v);
    const t = mk("line", group, {x1: x, x2: x, y1: bottom, y2: bottom + 9.7, stroke: "#000", "stroke-width": 2.2});
    
    
    const l = mk("text", group, {x: x, y: bottom + 41, "text-anchor": "middle", "font-size": 29});
    
    
    l.textContent = v.toFixed(xDigits);
  });
  yTicks.forEach(v => {
    const y = yFn(v);
    const t = mk("line", group, {x1: left, x2: left - 9.7, y1: y, y2: y, stroke: "#000", "stroke-width": 2.2});
    
    
    const l = mk("text", group, {x: left - 16.5, y: y + 10.5, "text-anchor": "end", "font-size": 29});
    
    
    l.textContent = v.toFixed(yDigits);
  });
}

/* panel c */
const marksC = document.getElementById("marksC");
drawPoints(marksC, cDarkPoints, "#000", cX, cY, 'dark-sea-point-c');
drawPoints(marksC, cLeakPoints, "#f00", cX, cY, 'leak-point-c');
drawPoints(marksC, cCloudPoints, "#808080", cX, cY, 'cloud-point-c');
drawFit(marksC, cFitSlope, cFitEnd, cX, cY, 'mbsp-line-c');
drawTicks(document.getElementById("ticksC"), cXTicks, cYTicks, cX, cY, 1, 1, 125.3, 1946, 'c');

/* panel d */
const marksD = document.getElementById("marksD");
drawPoints(marksD, dLeakPoints, "#f00", dX, dY, 'leak-point-d');
drawPoints(marksD, dDarkPoints, "#000", dX, dY, 'dark-sea-point-d');
drawFit(marksD, dFitSlope, dFitEnd, dX, dY, 'mbsp-line-d');
drawTicks(document.getElementById("ticksD"), dXTicks, dYTicks, dX, dY, 3, 2, 1132.5, 1946, 'd');
</script>
</body>
</html>
